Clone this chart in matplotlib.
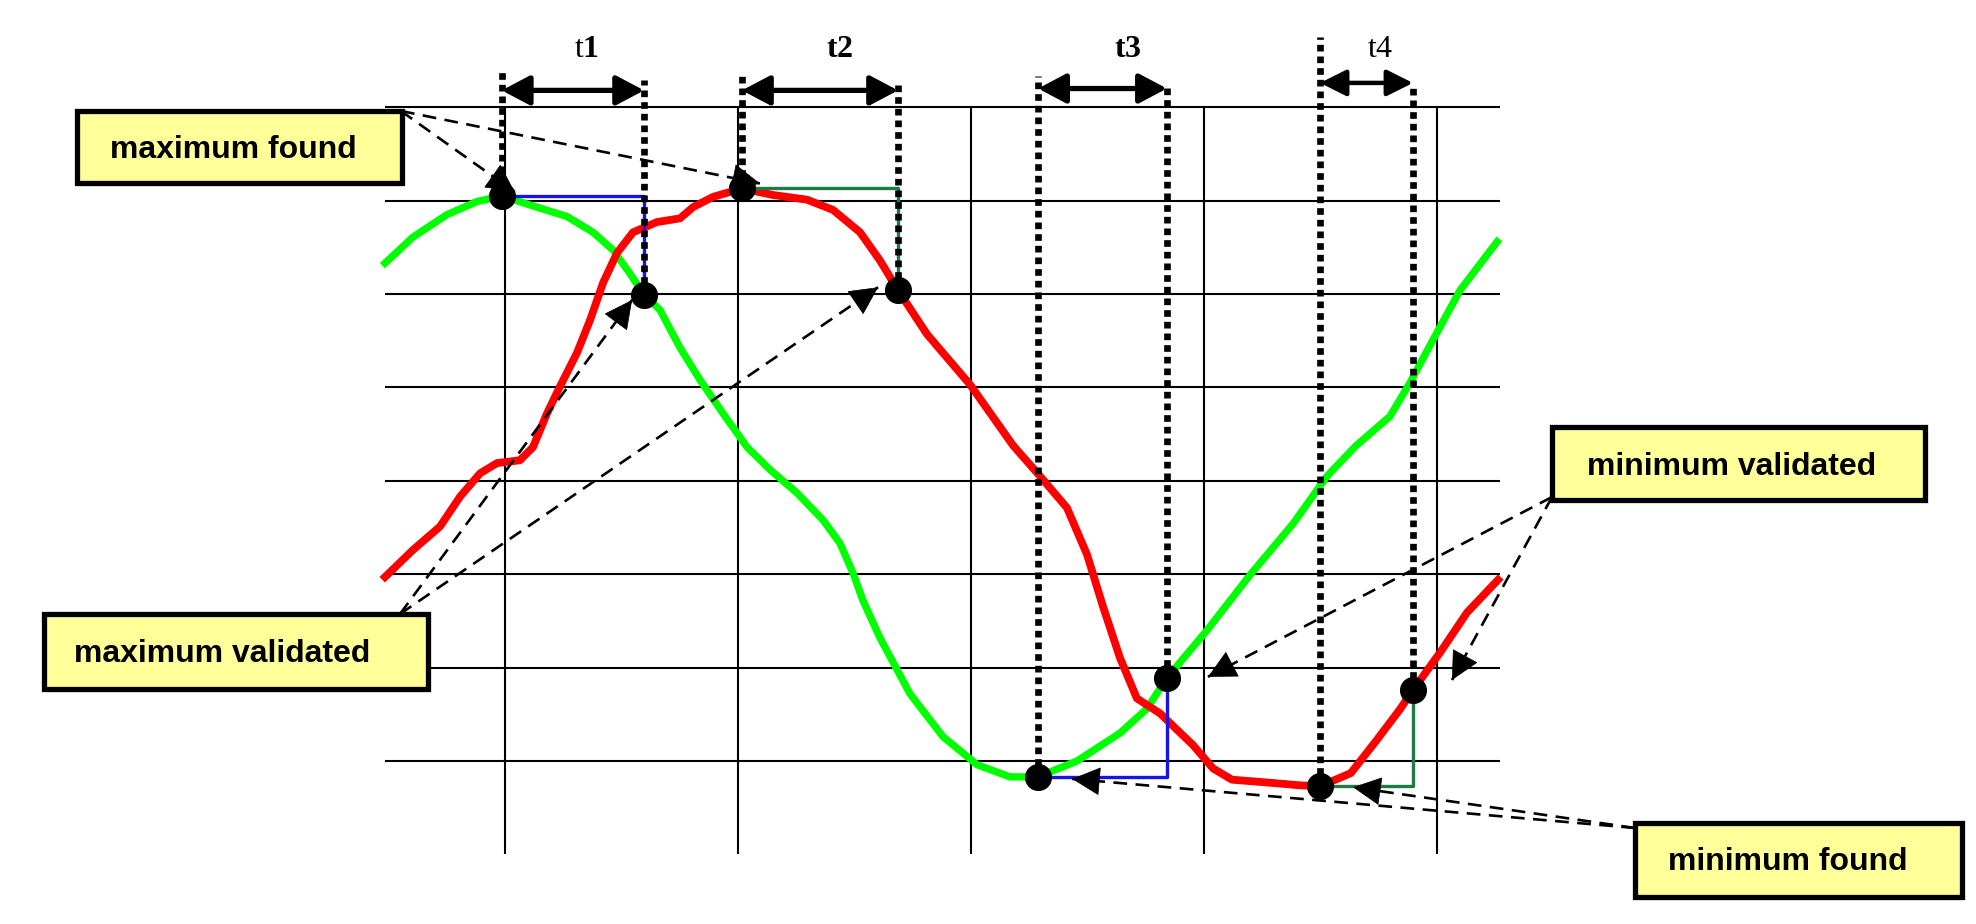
import numpy as np
import matplotlib
matplotlib.use("Agg")
import matplotlib.pyplot as plt
import matplotlib.transforms as mtransforms
from matplotlib.patches import Rectangle

# ---------------- data (time in grid units, value in grid units) ----------------
green_t = [0.485, 0.605, 0.751, 0.880, 0.986, 1.137, 1.266, 1.378, 1.464, 1.536, 1.597,
           1.665, 1.750, 1.837, 1.936, 2.039, 2.137, 2.253, 2.365, 2.438, 2.494, 2.536,
           2.609, 2.738, 2.880, 3.026, 3.167, 3.288, 3.455, 3.640, 3.755, 3.841, 4.013,
           4.197, 4.382, 4.528, 4.650, 4.798, 4.884, 4.983, 5.099, 5.258]
green_v = [6.33, 6.61, 6.85, 6.99, 7.05, 6.93, 6.83, 6.66, 6.47, 6.22, 5.99,
           5.83, 5.43, 5.08, 4.72, 4.36, 4.12, 3.87, 3.58, 3.33, 3.01, 2.72,
           2.32, 1.72, 1.26, 0.96, 0.83, 0.83, 1.00, 1.30, 1.56, 1.89, 2.40,
           2.99, 3.54, 4.05, 4.37, 4.69, 5.05, 5.51, 6.04, 6.56]

red_t = [0.485, 0.605, 0.721, 0.807, 0.893, 0.966, 1.064, 1.120, 1.180, 1.236, 1.309,
         1.365, 1.421, 1.481, 1.549, 1.652, 1.751, 1.807, 1.893, 2.017, 2.150, 2.296,
         2.408, 2.524, 2.609, 2.687, 2.811, 2.996, 3.180, 3.296, 3.412, 3.498, 3.567,
         3.640, 3.712, 3.811, 3.953, 4.039, 4.120, 4.270, 4.410, 4.498, 4.630, 4.740,
         4.840, 4.897, 5.013, 5.129, 5.262]
red_v = [2.97, 3.26, 3.51, 3.83, 4.08, 4.19, 4.22, 4.36, 4.72, 5.01, 5.37,
         5.72, 6.12, 6.44, 6.66, 6.77, 6.81, 6.93, 7.04, 7.13, 7.06, 7.01,
         6.90, 6.66, 6.36, 6.04, 5.57, 5.03, 4.38, 4.05, 3.71, 3.21, 2.65,
         2.10, 1.67, 1.51, 1.17, 0.92, 0.80, 0.77, 0.74, 0.73, 0.87, 1.22,
         1.55, 1.76, 2.16, 2.59, 2.94]

interval_labels = ["t1", "t2", "t3", "t4"]
found_t = [0.986, 2.017, 3.288, 4.498]
found_v = [7.05, 7.13, 0.83, 0.73]
valid_t = [1.597, 2.687, 3.841, 4.897]
valid_v = [5.99, 6.04, 1.89, 1.76]
tracked_curve = ["green", "red", "green", "red"]

box_labels = ["maximum found", "maximum validated", "minimum validated", "minimum found"]

# ---------------- figure / coordinate systems ----------------
W, H = 1976, 924
plt.rcParams["mathtext.fontset"] = "custom"
plt.rcParams["mathtext.rm"] = "Liberation Serif"
plt.rcParams["mathtext.bf"] = "Liberation Serif:bold"

fig = plt.figure(figsize=(W / 100, H / 100), dpi=100)
ax = fig.add_axes([0, 0, 1, 1])
X0, SX = 272.0, 233.0      # pixel of t=0, pixels per t-unit
Y0, SY = 854.4, 93.4       # pixel of v=0, pixels per v-unit
ax.set_xlim(-X0 / SX, (W - X0) / SX)
ax.set_ylim((Y0 - H) / SY, Y0 / SY)
ax.axis("off")

PX = mtransforms.Affine2D().scale(1 / W, -1 / H).translate(0, 1) + fig.transFigure


def d2p(t, v):
    return np.array([X0 + SX * t, Y0 - SY * v])


# ---------------- grid ----------------
t_left, t_right = (385 - X0) / SX, (1500 - X0) / SX
for v in range(1, 9):
    ax.plot([t_left, t_right], [v, v], color="black", lw=1.5, zorder=1,
            solid_capstyle="butt")
for t in range(1, 6):
    ax.plot([t, t], [0, 8], color="black", lw=1.5, zorder=1, solid_capstyle="butt")

# ---------------- curves ----------------
ax.plot(green_t, green_v, color="#00FF00", lw=5.3, zorder=2, solid_joinstyle="round")
ax.plot(red_t, red_v, color="#FF0000", lw=5.6, zorder=2, solid_joinstyle="round")

# ---------------- hold lines ----------------
hold_color = {"green": "#1414E6", "red": "#1E7B45"}
for ft, fv, vt, vv, c in zip(found_t, found_v, valid_t, valid_v, tracked_curve):
    ax.plot([ft, vt, vt], [fv, fv, vv], color=hold_color[c], lw=2.4, zorder=3)

# ---------------- dotted vertical markers & interval arrows ----------------
start_top = [8.38, 8.35, 8.33, 8.75]
end_top = [8.29, 8.27, 8.24, 8.24]
arrow_v = [8.18, 8.18, 8.20, 8.26]
for ft, fv, vt, vv, st, et in zip(found_t, found_v, valid_t, valid_v, start_top, end_top):
    ax.plot([ft, ft], [fv, st], color="black", lw=4.8, linestyle=(0, (1.0, 0.75)),
            dash_capstyle="butt", zorder=4)
    ax.plot([vt, vt], [vv, et], color="black", lw=4.8, linestyle=(0, (1.0, 0.75)),
            dash_capstyle="butt", zorder=4)

for i, (ft, vt, av) in enumerate(zip(found_t, valid_t, arrow_v)):
    lw = 3.8 if i < 3 else 3.2
    hl, hw = (0.85, 0.45) if i < 3 else (0.8, 0.4)
    ax.annotate("", xy=(vt, av), xytext=(ft, av),
                arrowprops=dict(arrowstyle=f"<|-|>,head_length={hl},head_width={hw}",
                                mutation_scale=20, lw=lw, color="black",
                                shrinkA=0, shrinkB=0), zorder=6)

label_math = {"t1": r"$\mathrm{t}\mathbf{1}$", "t2": r"$\mathbf{t2}$",
              "t3": r"$\mathbf{t3}$", "t4": r"$\mathrm{t4}$"}
label_px_x = [587, 840, 1128, 1380]
for lab, lx in zip(interval_labels, label_px_x):
    ax.text(lx, 57, label_math[lab], transform=PX, ha="center", va="baseline",
            fontsize=23, color="black", zorder=9)

# ---------------- event dots ----------------
ax.plot(found_t, found_v, "o", ms=18.5, color="black", zorder=5)
ax.plot(valid_t, valid_v, "o", ms=18.5, color="black", zorder=5)

# ---------------- annotation boxes ----------------
box_rects = [(77, 111, 402, 183), (44, 614, 428, 689),
             (1552, 427, 1925, 500), (1635, 823, 1962, 897)]
text_pos = [(110, 158), (74, 662), (1587, 475), (1668, 870)]
for lab, (x0, y0, x1, y1), (tx, ty) in zip(box_labels, box_rects, text_pos):
    ax.add_patch(Rectangle((x0, y0), x1 - x0, y1 - y0, transform=PX,
                           facecolor="#FFFF99", edgecolor="black", lw=3.8, zorder=8))
    ax.text(tx, ty, lab, transform=PX, ha="left", va="baseline", fontsize=23,
            fontweight="bold", family="Liberation Sans", color="black", zorder=9)


def dashed_arrow(src, tip):
    src = np.asarray(src, float)
    tip = np.asarray(tip, float)
    ax.plot([src[0], tip[0]], [src[1], tip[1]], transform=PX, color="black",
            lw=1.9, dashes=(5.2, 3.2), zorder=6)
    d = tip - src
    back = tip - 20 * d / np.hypot(*d)
    ax.annotate("", xy=tuple(tip), xytext=tuple(back), xycoords=PX, textcoords=PX,
                arrowprops=dict(arrowstyle="-|>,head_length=0.95,head_width=0.48",
                                mutation_scale=20, lw=0.5, color="black",
                                shrinkA=0, shrinkB=0), zorder=7)


# sources (box corners, px) and tip offsets from the event dots (px)
srcs = {"maximum found": (401, 111), "maximum validated": (400, 614),
        "minimum validated": (1552, 497), "minimum found": (1635, 828)}
dashed_arrow(srcs["maximum found"], d2p(found_t[0], found_v[0]) + (13, -4))
dashed_arrow(srcs["maximum found"], d2p(found_t[1], found_v[1]) + (18, -5))
dashed_arrow(srcs["maximum validated"], d2p(valid_t[0], valid_v[0]) + (-12, 5))
dashed_arrow(srcs["maximum validated"], d2p(valid_t[1], valid_v[1]) + (-20, -3))
dashed_arrow(srcs["minimum validated"], d2p(valid_t[2], valid_v[2]) + (41, -1))
dashed_arrow(srcs["minimum validated"], d2p(valid_t[3], valid_v[3]) + (39, -10))
dashed_arrow(srcs["minimum found"], d2p(found_t[2], found_v[2]) + (34, 2))
dashed_arrow(srcs["minimum found"], d2p(found_t[3], found_v[3]) + (33, 1))

fig.savefig("out.png", dpi=100, facecolor="white")
